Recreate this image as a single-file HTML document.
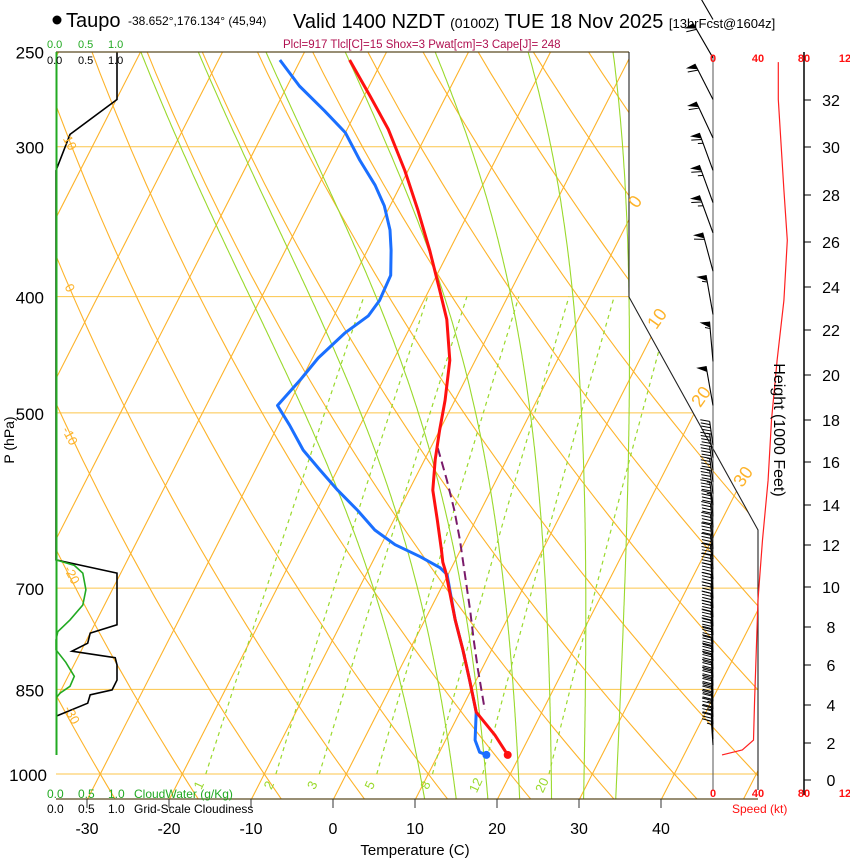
<!DOCTYPE html>
<html><head><meta charset="utf-8"><style>
body{margin:0;background:#fff;width:850px;height:860px;overflow:hidden}
svg{display:block;font-family:"Liberation Sans",Arial,sans-serif}
</style></head><body>
<svg id="c" width="850" height="860" viewBox="0 0 850 860">
<defs><clipPath id="plotclip"><polygon points="56,52 629,52 629,297 758,530 758,799 56,799"/></clipPath></defs>
<g id="grid" clip-path="url(#plotclip)"></g>
<g id="profiles"></g>
<g id="right"></g>
<g id="labels"></g>
</svg>
<script>
// ---- data ----
const tempP=[254,272,290,314,339,366,395,418,452,488,517,547,580,614,651,666,679,744,788,835,888,928,964];
const tempT=[-44.0,-39.3,-35.0,-30.4,-26.3,-22.4,-18.7,-16.0,-13.1,-11.2,-10.0,-8.7,-7.1,-4.7,-2.3,-1.4,-0.4,3.7,6.5,9.2,12.0,15.7,18.5];
const dewP=[254,267,280,292,308,323,336,352,366,384,403,415,429,450,469,493,512,537,558,580,603,626,644,659,673,682,744,788,835,888,937,959,964];
const dewT=[-52.5,-48.5,-43.9,-40.0,-36.5,-33.1,-30.7,-28.5,-27.1,-25.6,-25.4,-25.8,-27.6,-29.3,-30.1,-31.3,-28.6,-25.4,-22.1,-18.7,-15.0,-11.7,-8.3,-4.5,-1.4,-0.1,3.7,6.5,9.2,12.0,13.6,14.9,15.9];
const parcelP=[535,569,603,638,689,730,773,819,884];
const parcelT=[-9.1,-6.0,-3.2,-0.7,2.5,4.9,7.2,9.6,12.9];
const cloudP=[250,274,293,314,663,680,751,763,778,790,800,811,835,851,859,873,895];
const cloudF=[1,1,0.23,0,0,1,1,0.56,0.52,0.26,0.97,1,1,0.92,0.56,0.52,0];
const cwP=[663,670,680,702,723,744,761,773,788,807,829,845,856,864];
const cwV=[0,0.3,0.44,0.49,0.44,0.23,0.03,0,0,0.16,0.3,0.23,0.07,0];
const spdP=[255,274,326,359,403,452,507,569,638,716,868,937,955,964];
const spdV=[58,58,63,66,63,57,52,49,44,40,37,36,26,8];
const barbP=[235,253,274,295,314,334,354,381,414,453,493,532,545,558,571,584,597,610,623,636,649,662,675,688,701,714,727,740,753,766,779,792,805,818,831,844,857,870,883,896,909,922,935,946];
const barbS=[60,60,60,60,65,65,65,60,55,55,50,45,45,45,45,45,45,40,40,40,40,40,40,40,40,40,40,40,40,40,40,40,40,40,40,40,40,40,40,35,35,30,25,15];
const barbD=[330,330,333,335,340,340,340,345,350,355,350,352,352,352,352,352,352,354,354,354,354,354,354,354,355,355,355,355,355,355,355,356,356,356,356,356,356,356,356,356,356,356,356,356];
const heightTicks=[0,2,4,6,8,10,12,14,16,18,20,22,24,26,28,30,32];
const heightY=[780,743,705,665,627,587,545,505,462,420,375,330,287,242,195,147,100];
const pLevels=[250,300,400,500,700,850,1000];
const tTicks=[-30,-20,-10,0,10,20,30,40];
const mixR=[1,2,3,5,8,12,20];
const moistT=[9,13,17,21,25,29,33];

// ---- axes ----
const NS="http://www.w3.org/2000/svg";
const yP=p=>774-521*Math.log(1000/p);
const xT=(T,p)=>333+8.2*T+0.51*(800-yP(p));
const xSpd=s=>713+s*45/40;
function el(tag,attrs,parent,text){const e=document.createElementNS(NS,tag);for(const k in attrs)e.setAttribute(k,attrs[k]);if(text!==undefined)e.textContent=text;parent.appendChild(e);return e;}
const G=document.getElementById('grid'),PR=document.getElementById('profiles'),R=document.getElementById('right'),L=document.getElementById('labels');
const pTop=240,pBot=1060;
function pathPts(f,p0,p1,n){let d='';for(let i=0;i<=n;i++){const p=p0+(p1-p0)*i/n;const T=f(p);d+=(i?'L':'M')+xT(T,p).toFixed(1)+','+yP(p).toFixed(1);}return d;}

// pressure lines
pLevels.forEach(p=>{const l=el('line',{x1:56,x2:760,y1:yP(p),y2:yP(p),stroke:'#fcc54a','stroke-width':1},G);
});
// isotherms
for(let T=-110;T<=50;T+=10){const l=el('path',{d:pathPts(()=>T,pBot,pTop,1),stroke:'#fdb32a','stroke-width':1.1,fill:'none'},G);
}
// dry adiabats
for(let th=-40;th<=130;th+=10){const l=el('path',{d:pathPts(p=>(th+273.15)*Math.pow(p/1000,0.286)-273.15,pBot,pTop,40),stroke:'#fdb32a','stroke-width':1.1,fill:'none'},G);
}
// mixing ratio
function es(T){return 6.112*Math.exp(17.67*T/(T+243.5));}
function tw(w,p){const e=w*p/(622+w);const a=Math.log(e/6.112);return 243.5*a/(17.67-a);}
mixR.forEach(w=>{const l=el('path',{d:pathPts(p=>tw(w,p),1000,400,20),stroke:'#9ad92c','stroke-width':1.2,fill:'none','stroke-dasharray':'4,4'},G);

const x=xT(tw(w,1000),1000)-3,y=787;const t=el('text',{x:x,y:y,fill:'#9ad92c','font-size':13,transform:`rotate(-65 ${x} ${y})`,'text-anchor':'middle'},L,String(w));
});
// moist adiabats
function moist(T0){const pts=[];const step=-2;let T=T0+273.15;
function dTdp(T,p){const e=es(T-273.15);const rs=0.622*e/(p-e);return (287*T+2.5e6*rs)/(p*(1004+2.5e6*2.5e6*rs*0.622/(287*T*T)));}
let Td=T;for(let p=1000;p<=pBot;p+=2){Td+=dTdp(Td,p)*2;}pts.push([pBot,Td]);
let Tb=T,arr=[];for(let p=1000;p<pBot;p+=2){arr.push([p,Tb]);Tb+=dTdp(Tb,p)*2;}
let Tu=T;const up=[];for(let p=1000;p>=pTop;p+=step){up.push([p,Tu]);Tu+=dTdp(Tu,p)*step;}
const all=arr.reverse().concat(up);return all;}
moistT.forEach(T0=>{const a=moist(T0);let d='';a.forEach((q,i)=>{d+=(i?'L':'M')+xT(q[1]-273.15,q[0]).toFixed(1)+','+yP(q[0]).toFixed(1);});
const l=el('path',{d:d,stroke:'#9ad92c','stroke-width':1.1,fill:'none'},G);
});

// frame
const fr=el('path',{d:'M56,52L629,52',stroke:'#5a4a20','stroke-width':1.3,fill:'none'},R);
const fr2=el('path',{d:'M629,52L629,297L758,530L758,790',stroke:'#222','stroke-width':1.1,fill:'none'},R);
const fb=el('line',{x1:56,x2:758,y1:799,y2:799,stroke:'#5a4a20','stroke-width':1.3},R);
const ga=el('line',{x1:56.5,x2:56.5,y1:52,y2:755,stroke:'#22aa22','stroke-width':2},R);

// cloud profiles
const cx=f=>56+f*61;
let dc='';cloudP.forEach((p,i)=>{dc+=(i?'L':'M')+cx(cloudF[i]).toFixed(1)+','+yP(p).toFixed(1);});
const cl=el('path',{d:dc,stroke:'#000','stroke-width':1.6,fill:'none'},PR);
let dw='';cwP.forEach((p,i)=>{dw+=(i?'L':'M')+cx(cwV[i]).toFixed(1)+','+yP(p).toFixed(1);});
const cw=el('path',{d:dw,stroke:'#22aa22','stroke-width':1.6,fill:'none'},PR);

function prof(P,T,attrs){let d='';P.forEach((p,i)=>{d+=(i?'L':'M')+xT(T[i],p).toFixed(1)+','+yP(p).toFixed(1);});attrs.d=d;attrs.fill='none';return el('path',attrs,PR);}
const pc=prof(parcelP,parcelT,{stroke:'#7a1a6a','stroke-width':2,'stroke-dasharray':'9,5'});
const dp=prof(dewP,dewT,{stroke:'#1a6fff','stroke-width':3,'stroke-linejoin':'round'});
const tp=prof(tempP,tempT,{stroke:'#ff1010','stroke-width':3,'stroke-linejoin':'round'});
const dd=el('circle',{cx:xT(dewT[dewT.length-1],dewP[dewP.length-1]),cy:yP(dewP[dewP.length-1]),r:4,fill:'#1a6fff'},PR);
const td=el('circle',{cx:xT(tempT[tempT.length-1],tempP[tempP.length-1]),cy:yP(tempP[tempP.length-1]),r:4,fill:'#ff1010'},PR);

// right panel
const ba=el('line',{x1:713,x2:713,y1:55,y2:790,stroke:'#555','stroke-width':1},R);
const ha=el('line',{x1:804,x2:804,y1:52,y2:795,stroke:'#000','stroke-width':1.5},R);
heightTicks.forEach((h,i)=>{const y=heightY[i];el('line',{x1:804,x2:811,y1:y,y2:y,stroke:'#000','stroke-width':1},R);
const t=el('text',{x:831,y:y+6,'font-size':16,'text-anchor':'middle',fill:'#000'},L,String(h));});
let ds='';spdP.forEach((p,i)=>{ds+=(i?'L':'M')+xSpd(spdV[i]).toFixed(1)+','+yP(p).toFixed(1);});
const sp=el('path',{d:ds,stroke:'#ff2020','stroke-width':1.2,fill:'none'},R);
// barbs
barbP.forEach((p,i)=>{const s=barbS[i],d=barbD[i]*Math.PI/180;const y0=yP(p);const ux=Math.sin(d),uy=-Math.cos(d);
const big=p<500;const Ls=big?40:24;const tipx=713+ux*Ls,tipy=y0+uy*Ls;const px=uy,py=-ux;
const g=el('g',{},R);
el('line',{x1:713,y1:y0,x2:tipx,y2:tipy,stroke:'#000','stroke-width':1.1},g);
let rem=Math.round(s/5)*5,pos=0;const fl=big?10:9,sp2=big?4:3.2;
while(rem>=50){const ax=tipx-ux*pos,ay=tipy-uy*pos,bx=tipx-ux*(pos+6),by=tipy-uy*(pos+6);
el('polygon',{points:`${ax},${ay} ${ax+px*fl},${ay+py*fl} ${bx},${by}`,fill:'#000'},g);pos+=7;rem-=50;}
while(rem>=10){const ax=tipx-ux*pos,ay=tipy-uy*pos;el('line',{x1:ax,y1:ay,x2:ax+px*fl+ux*3,y2:ay+py*fl+uy*3,stroke:'#000','stroke-width':1},g);pos+=sp2;rem-=10;}
if(rem>=5){const ax=tipx-ux*pos,ay=tipy-uy*pos;el('line',{x1:ax,y1:ay,x2:ax+px*fl/2+ux*1.5,y2:ay+py*fl/2+uy*1.5,stroke:'#000','stroke-width':1},g);}
});
// speed labels
[[0,713],[40,758],[80,804],[120,845]].forEach(a=>{[62,797].forEach(y=>{const t=el('text',{x:a[1],y:y,'font-size':11,'font-weight':'bold','text-anchor':'middle',fill:'#ff1010'},L,a[0]===120?'12':String(a[0]));});});

// pressure labels
pLevels.forEach(p=>{const t=el('text',{x:p===1000?47:44,y:yP(p)+7,'font-size':17,'text-anchor':'end',fill:'#000'},L,String(p));});
// temperature ticks
tTicks.forEach(T=>{const x=333+8.2*T;el('line',{x1:x,x2:x,y1:799,y2:808,stroke:'#333','stroke-width':1},L);
const t=el('text',{x:x,y:834,'font-size':16,'text-anchor':'middle',fill:'#000'},L,String(T));});
// isotherm labels
[[0,640,205],[10,662,322],[20,706,400],[30,748,480]].forEach(a=>{const t=el('text',{x:a[1],y:a[2],'font-size':18,fill:'#fdb32a','text-anchor':'middle',transform:`rotate(-55 ${a[1]} ${a[2]})`},L,String(a[0]));});
[[10,66,145],[0,66,290],[-10,66,438],[-20,68,577],[-30,68,717]].forEach(a=>{const t=el('text',{x:a[1],y:a[2],'font-size':13,fill:'#fdb32a','text-anchor':'middle',transform:`rotate(62 ${a[1]} ${a[2]})`},L,String(a[0]));});
</script>
<svg width="850" height="860" style="position:absolute;left:0;top:0">
<g font-family="Liberation Sans, Arial, sans-serif">
<circle cx="57" cy="20" r="4.5" fill="#000"/>
<text x="66" y="27" font-size="20">Taupo</text>
<text x="128" y="25" font-size="12">-38.652°,176.134° (45,94)</text>
<text x="293" y="28" font-size="20">Valid 1400 NZDT <tspan font-size="14">(0100Z)</tspan> TUE 18 Nov 2025 <tspan font-size="13">[13hrFcst@1604z]</tspan></text>
<text x="283" y="48" font-size="11.5" fill="#b01050">Plcl=917 Tlcl[C]=15 Shox=3 Pwat[cm]=3 Cape[J]= 248</text>
<text x="47" y="48" font-size="11" fill="#22aa22">0.0 <tspan x="78">0.5</tspan><tspan x="108">1.0</tspan></text>
<text x="47" y="64" font-size="11" fill="#000">0.0 <tspan x="78">0.5</tspan><tspan x="108">1.0</tspan></text>
<text x="47" y="798" font-size="12" fill="#22aa22">0.0 <tspan x="78">0.5</tspan><tspan x="108">1.0</tspan><tspan x="134">CloudWater (g/Kg)</tspan></text>
<text x="47" y="813" font-size="12" fill="#000">0.0 <tspan x="78">0.5</tspan><tspan x="108">1.0</tspan><tspan x="134">Grid-Scale Cloudiness</tspan></text>
<text x="415" y="855" font-size="15" text-anchor="middle">Temperature (C)</text>
<text x="14" y="440" font-size="14" text-anchor="middle" transform="rotate(-90 14 440)">P (hPa)</text>
<text x="774" y="430" font-size="16" text-anchor="middle" transform="rotate(90 774 430)">Height (1000 Feet)</text>
<text x="732" y="813" font-size="12" fill="#ff1010">Speed (kt)</text>
</g></svg>
</body></html>
